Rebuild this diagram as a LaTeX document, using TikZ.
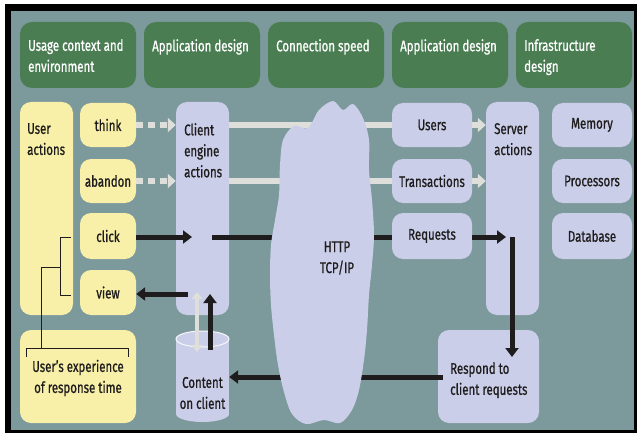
\documentclass[tikz,border=0pt]{standalone}
\usepackage{fontspec}
\setmainfont{Fira Sans}[FakeStretch=0.74, FakeBold=0.8]
\usepackage{tikz}
\usetikzlibrary{positioning}
\usetikzlibrary{arrows.meta}

\definecolor{teal}{RGB}{124,153,156}
\definecolor{hdgreen}{RGB}{74,125,82}
\definecolor{lemon}{RGB}{248,240,168}
\definecolor{lilac}{RGB}{202,206,232}
\definecolor{ghost}{RGB}{222,222,218}
\definecolor{ink}{RGB}{30,28,28}

\begin{document}
\begin{tikzpicture}[x=1pt, y=-1pt, line join=round,
  font=\fontsize{15.5}{21}\selectfont,
  hd/.style={fill=hdgreen, rounded corners=12pt, minimum height=66pt, minimum width=116pt},
  hdtxt/.style={text=white, anchor=north west, align=left, inner sep=0pt},
  yel/.style={fill=lemon, rounded corners=11pt, text=ink},
  lil/.style={fill=lilac, rounded corners=11pt, text=ink},
  txt/.style={text=ink, anchor=north west, align=left, inner sep=0pt},
  blk/.style={draw=ink, line width=5pt},
  blkarrow/.style={blk, -{Triangle[length=9pt,width=13pt]}},
  gry/.style={draw=ghost, line width=6pt},
  gryarrow/.style={gry, -{Triangle[length=8pt,width=14pt]}}]
\useasboundingbox (0,0) rectangle (639,433);
\fill[white] (0,0) rectangle (639,433);
\fill[black] (5,4) rectangle (637,433);
\fill[teal] (11,11) rectangle (634,430);

% headers
\node[hd] (h1) at (78,55) {};
\node[hd] (h2) at (202,55) {};
\node[hd] (h3) at (326,55) {};
\node[hd] (h4) at (450,55) {};
\node[hd, minimum width=116pt] (h5) at (574,55) {};
\node[hdtxt] at (28,39) {Usage context and\\environment};
\node[hdtxt] at (152,39) {Application design};
\node[hdtxt] at (276,39) {Connection speed};
\node[hdtxt] at (400,39) {Application design};
\node[hdtxt] at (524,39) {Infrastructure\\design};

% user side
\node[yel, minimum width=53pt, minimum height=213pt] (uact) at (46.5,208.5) {};
\node[txt] at (27,123) {User\\actions};
\node[yel, minimum width=56pt, minimum height=44pt] (think) at (108,125) {think};
\node[yel, minimum width=56pt, minimum height=44pt] (abandon) at (108,181) {abandon};
\node[yel, minimum width=56pt, minimum height=46pt] (click) at (108,236) {click};
\node[yel, minimum width=56pt, minimum height=45pt] (view) at (108,292.5) {view};
\node[yel, minimum width=116pt, minimum height=93pt] (ux) at (78,376.5) {};
\node[txt, align=center, anchor=center] (uxt) at (78,378) {User's experience\\of response time};

% brackets
\draw[ink, line width=1pt] (71,237) -- (60,237) -- (60,295) -- (71,295);
\draw[ink, line width=1pt] (60,267) -- (41,267) -- (41,348);
\draw[ink, line width=1pt] (26,357) -- (26,348) -- (128,348) -- (128,357);

% client
\node[lil, minimum width=53pt, minimum height=213pt] (cea) at (202.5,208.5) {};
\node[txt] at (184,123) {Client\\engine\\actions};
\node[minimum width=53pt, minimum height=93pt, inner sep=0pt] (cache) at (202.5,376.5) {};
\fill[lilac] (176,339) rectangle (229,414);
\fill[lilac] (202.5,414) ellipse (26.5 and 8);
\filldraw[fill=lilac, draw=white!85!lilac, line width=1pt] (202.5,339) ellipse (26.5 and 8);
\node[txt, align=center, anchor=center] at (202.5,393) {Content\\on client};

% server
\node[lil, minimum width=80pt, minimum height=44pt] (users) at (432,125) {Users};
\node[lil, minimum width=80pt, minimum height=44pt] (trans) at (432,181) {Transactions};
\node[lil, minimum width=80pt, minimum height=46pt] (reqs) at (432,236) {Requests};
\node[lil, minimum width=53pt, minimum height=213pt] (sact) at (512.5,208.5) {};
\node[txt] at (494,123) {Server\\actions};
\node[lil, minimum width=80pt, minimum height=44pt] (mem) at (592,125) {Memory};
\node[lil, minimum width=80pt, minimum height=44pt] (cpu) at (592,181) {Processors};
\node[lil, minimum width=80pt, minimum height=46pt] (db) at (592,236) {Database};
\node[lil, minimum width=101pt, minimum height=93pt] (resp) at (488.5,376.5) {};
\node[txt] at (450,362) {Respond to\\client requests};

% free ends
\coordinate (cin) at (192,237);
\coordinate (cout) at (212,237);
\coordinate (sin) at (506,237);
\coordinate (sdown) at (512,237);
\coordinate (rin) at (512,357);
\coordinate (rout) at (443,377);
\coordinate (vout) at (188,294);
\coordinate (cup) at (210,350);
\coordinate (ctop) at (210,294);
\coordinate (gtop) at (197,292);
\coordinate (gbot) at (197,352);

% links behind the network
\draw[gry] (cea.east |- users) -- (users.west);
\draw[gry] (cea.east |- trans) -- (trans.west);
\draw[blk] (cout) -- (reqs.west |- cout);
\draw[blkarrow] (rout) -- (cache.east |- rout);

% network cloud
\fill[lilac] plot[smooth cycle, tension=0.55] coordinates {
  (333,101) (343,110) (353,104) (363,118) (369,140) (369,170) (372,200)
  (374,235) (372,265) (369,295) (367,330) (364,360) (359,390) (352,410)
  (340,423) (324,420) (306,424) (292,414) (284,392) (278,365) (274,335)
  (271,305) (270,275) (271,245) (275,220) (279,195) (280,165) (283,140)
  (294,126) (308,128) (319,110)};
\node[txt, align=center, anchor=center] (net) at (337,258) {HTTP\\TCP/IP};

% links
\draw[gryarrow, dash pattern=on 7pt off 5pt] (think.east) -- (cea.west |- think);
\draw[gryarrow, dash pattern=on 7pt off 5pt] (abandon.east) -- (cea.west |- abandon);
\draw[gryarrow] (users.east) -- (sact.west |- users);
\draw[gryarrow] (trans.east) -- (sact.west |- trans);
\draw[blkarrow] (click.east |- cin) -- (cin);
\draw[blkarrow] (vout) -- (view.east |- vout);
\draw[blkarrow] (reqs.east |- sin) -- (sin);
\draw[blkarrow] (sdown) -- (rin);
\draw[blkarrow] (cup) -- (ctop);
\draw[gry, line width=4pt, {Triangle[length=7pt,width=11pt]}-{Triangle[length=7pt,width=11pt]}] (gtop) -- (gbot);
\end{tikzpicture}
\end{document}
